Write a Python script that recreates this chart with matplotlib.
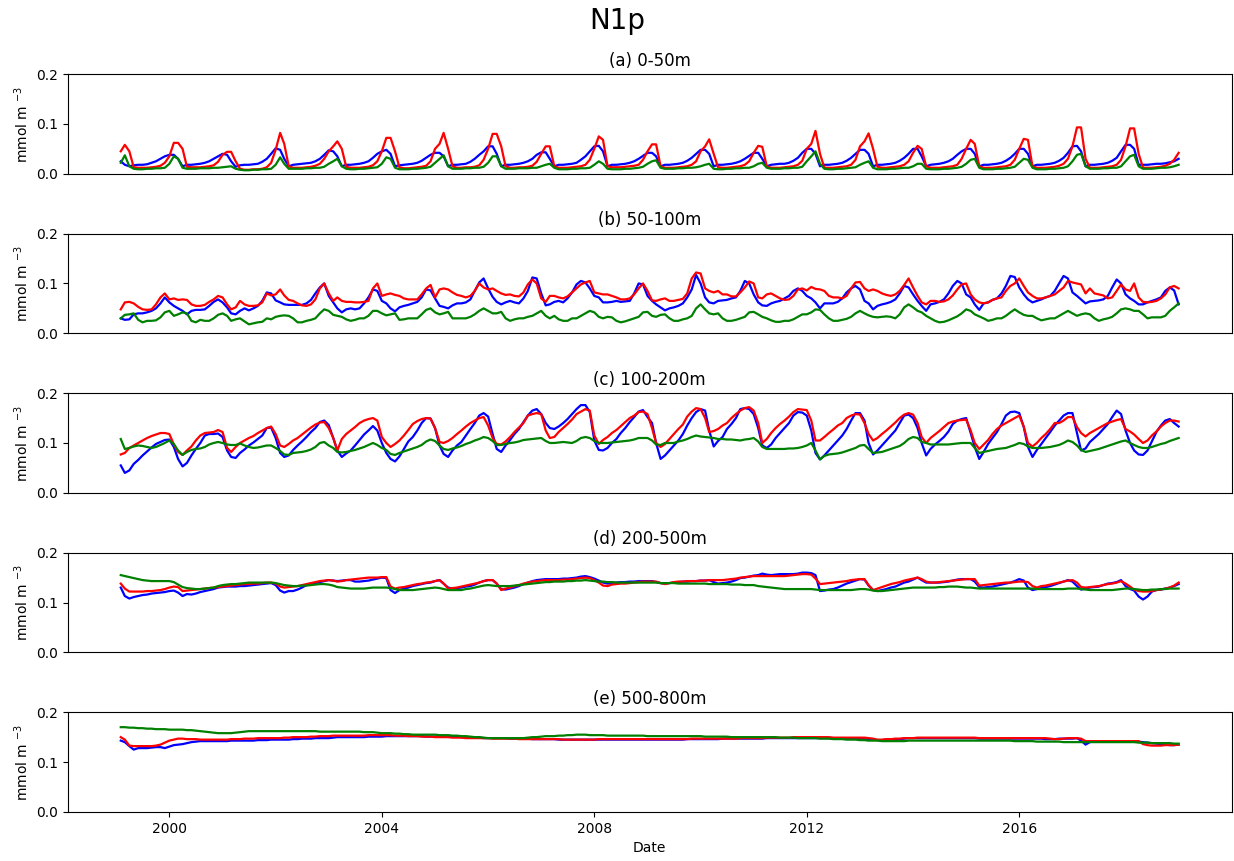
import numpy as np
import pandas as pd
import matplotlib
matplotlib.use("Agg")
import matplotlib.pyplot as plt
import matplotlib.dates as mdates

# monthly values, Jan 1999 - Dec 2018, one row per year, in 1e-3 mmol m-3
dates = pd.date_range("1999-02-01", periods=240, freq="MS") - pd.Timedelta(days=1)

a_blue = [
    [25, 18, 15, 17, 18, 18, 19, 22, 25, 30, 35, 38],
    [38, 30, 15, 18, 18, 19, 20, 22, 25, 30, 35, 40],
    [38, 25, 14, 17, 18, 18, 19, 20, 24, 30, 40, 51],
    [48, 30, 15, 18, 19, 20, 21, 22, 25, 30, 38, 47],
    [45, 35, 15, 18, 18, 19, 20, 22, 25, 32, 40, 45],
    [48, 40, 15, 17, 18, 19, 20, 22, 26, 32, 38, 42],
    [42, 35, 15, 18, 18, 19, 20, 24, 30, 38, 45, 55],
    [55, 40, 15, 18, 18, 19, 20, 22, 25, 30, 38, 43],
    [43, 30, 15, 18, 18, 19, 20, 22, 28, 35, 45, 55],
    [56, 45, 15, 18, 18, 19, 20, 22, 25, 30, 36, 42],
    [42, 35, 15, 18, 18, 19, 20, 22, 26, 32, 40, 48],
    [48, 40, 15, 18, 18, 19, 20, 22, 25, 30, 36, 42],
    [42, 30, 15, 18, 19, 20, 20, 22, 26, 32, 42, 50],
    [50, 40, 15, 18, 18, 19, 20, 22, 26, 32, 40, 48],
    [48, 40, 15, 18, 18, 19, 20, 22, 26, 32, 40, 50],
    [50, 35, 15, 18, 19, 20, 22, 25, 30, 38, 45, 50],
    [50, 40, 15, 18, 18, 19, 20, 22, 26, 32, 40, 50],
    [50, 40, 15, 18, 18, 19, 20, 22, 26, 32, 42, 55],
    [56, 45, 15, 18, 18, 19, 20, 22, 26, 32, 45, 58],
    [58, 50, 18, 18, 18, 19, 20, 20, 21, 23, 25, 30],
]
a_red = [
    [45, 58, 45, 13, 12, 12, 12, 13, 14, 16, 22, 35],
    [62, 62, 50, 14, 13, 13, 13, 14, 15, 17, 24, 38],
    [44, 44, 25, 10, 8, 8, 9, 9, 10, 13, 22, 48],
    [82, 60, 15, 12, 12, 12, 13, 14, 16, 20, 30, 45],
    [55, 65, 50, 14, 12, 12, 12, 13, 14, 17, 25, 45],
    [72, 72, 45, 13, 11, 11, 12, 13, 14, 16, 25, 50],
    [60, 82, 50, 15, 12, 12, 13, 13, 14, 17, 28, 50],
    [80, 80, 55, 15, 12, 12, 13, 13, 14, 16, 24, 40],
    [55, 55, 15, 12, 12, 12, 13, 14, 15, 18, 28, 50],
    [75, 68, 15, 13, 13, 13, 14, 15, 16, 18, 28, 45],
    [59, 59, 15, 12, 12, 12, 13, 14, 15, 18, 25, 45],
    [55, 69, 40, 13, 12, 12, 13, 14, 15, 18, 25, 42],
    [56, 54, 15, 12, 12, 12, 13, 14, 15, 18, 26, 50],
    [60, 86, 40, 12, 12, 12, 13, 14, 15, 18, 28, 55],
    [65, 81, 50, 14, 12, 12, 13, 14, 15, 18, 25, 42],
    [56, 50, 15, 12, 12, 12, 13, 14, 15, 18, 30, 50],
    [68, 60, 15, 12, 12, 12, 13, 14, 15, 18, 28, 50],
    [70, 68, 15, 12, 12, 12, 13, 14, 16, 20, 30, 55],
    [93, 93, 30, 12, 12, 12, 13, 14, 15, 18, 28, 55],
    [91, 91, 40, 12, 12, 12, 13, 14, 16, 20, 28, 42],
]
a_green = [
    [22, 37, 15, 10, 9, 9, 10, 10, 11, 11, 12, 20],
    [35, 30, 12, 10, 10, 10, 11, 11, 11, 12, 12, 13],
    [14, 15, 10, 8, 7, 7, 8, 8, 9, 9, 10, 18],
    [33, 20, 10, 10, 10, 10, 11, 11, 12, 12, 14, 20],
    [25, 30, 15, 10, 9, 9, 10, 10, 11, 12, 13, 20],
    [33, 30, 12, 9, 9, 9, 10, 10, 11, 12, 14, 22],
    [30, 37, 15, 10, 10, 10, 11, 11, 12, 12, 14, 22],
    [35, 35, 15, 10, 10, 10, 11, 11, 11, 12, 12, 15],
    [18, 20, 12, 9, 9, 9, 10, 10, 11, 11, 12, 18],
    [25, 20, 10, 9, 9, 9, 10, 10, 11, 12, 14, 20],
    [25, 27, 12, 10, 10, 10, 11, 11, 12, 12, 13, 15],
    [18, 20, 10, 9, 9, 10, 10, 11, 11, 12, 12, 15],
    [20, 22, 12, 10, 10, 10, 11, 11, 12, 12, 14, 25],
    [35, 45, 20, 10, 9, 9, 10, 10, 11, 12, 13, 18],
    [22, 25, 12, 9, 9, 9, 10, 10, 11, 12, 12, 15],
    [20, 20, 10, 9, 9, 9, 10, 10, 11, 12, 14, 20],
    [28, 30, 12, 9, 9, 9, 10, 10, 11, 12, 14, 22],
    [30, 28, 12, 9, 9, 9, 10, 10, 11, 12, 15, 25],
    [38, 40, 15, 10, 10, 10, 11, 11, 12, 12, 15, 25],
    [35, 38, 15, 10, 10, 10, 11, 12, 12, 13, 15, 18],
]

b_blue = [
    [30, 27, 28, 38, 40, 40, 42, 45, 50, 60, 72, 62],
    [55, 50, 45, 38, 45, 47, 47, 48, 55, 63, 68, 62],
    [52, 40, 38, 45, 50, 46, 50, 55, 65, 82, 80, 66],
    [62, 58, 57, 57, 57, 57, 60, 67, 80, 92, 100, 75],
    [62, 50, 42, 48, 50, 48, 50, 60, 72, 88, 85, 65],
    [60, 50, 44, 52, 55, 57, 60, 63, 72, 88, 86, 70],
    [55, 53, 50, 56, 60, 60, 62, 68, 85, 102, 110, 90],
    [73, 63, 58, 62, 65, 62, 60, 70, 85, 112, 110, 80],
    [56, 58, 63, 65, 62, 70, 82, 98, 105, 102, 90, 75],
    [72, 62, 62, 63, 65, 63, 64, 65, 80, 100, 98, 75],
    [65, 58, 52, 46, 50, 52, 55, 60, 72, 88, 117, 100],
    [72, 62, 60, 65, 66, 67, 70, 72, 85, 105, 100, 78],
    [62, 56, 55, 60, 63, 65, 70, 75, 85, 90, 85, 75],
    [70, 62, 50, 60, 60, 60, 63, 70, 82, 90, 95, 88],
    [65, 60, 48, 55, 58, 60, 63, 68, 80, 95, 92, 78],
    [65, 55, 45, 58, 60, 63, 68, 80, 95, 105, 100, 78],
    [72, 58, 47, 60, 62, 67, 70, 80, 95, 115, 113, 92],
    [78, 68, 62, 65, 68, 72, 75, 85, 100, 115, 110, 82],
    [75, 68, 60, 64, 65, 66, 68, 75, 92, 108, 100, 78],
    [70, 65, 58, 58, 62, 65, 68, 72, 85, 92, 86, 58],
]
b_red = [
    [48, 62, 63, 60, 53, 48, 47, 48, 58, 72, 80, 68],
    [70, 67, 68, 67, 58, 55, 55, 57, 63, 68, 75, 72],
    [58, 48, 52, 65, 58, 55, 55, 56, 62, 80, 76, 78],
    [88, 76, 67, 65, 60, 56, 55, 58, 68, 90, 100, 80],
    [65, 72, 65, 63, 63, 62, 62, 63, 65, 90, 100, 75],
    [78, 80, 77, 75, 70, 68, 68, 68, 78, 90, 97, 72],
    [88, 90, 88, 82, 77, 75, 72, 75, 85, 100, 92, 88],
    [90, 85, 80, 77, 78, 75, 74, 82, 98, 108, 100, 70],
    [63, 75, 75, 72, 70, 74, 82, 90, 98, 102, 105, 82],
    [80, 78, 78, 75, 72, 68, 68, 70, 78, 90, 100, 85],
    [66, 65, 68, 70, 65, 65, 67, 69, 80, 110, 122, 120],
    [90, 85, 82, 85, 78, 78, 74, 74, 82, 92, 104, 100],
    [72, 70, 78, 80, 75, 70, 67, 68, 75, 88, 90, 86],
    [93, 89, 88, 85, 75, 72, 72, 70, 75, 90, 102, 103],
    [90, 85, 88, 85, 80, 77, 75, 78, 85, 97, 110, 92],
    [75, 62, 58, 65, 65, 63, 64, 68, 76, 88, 98, 100],
    [78, 68, 62, 60, 62, 67, 70, 72, 85, 95, 100, 110],
    [95, 82, 75, 70, 70, 72, 75, 78, 85, 92, 105, 102],
    [100, 98, 80, 90, 80, 78, 76, 70, 72, 85, 98, 88],
    [85, 100, 72, 63, 62, 63, 65, 70, 78, 92, 95, 90],
]
b_green = [
    [30, 37, 38, 40, 27, 22, 25, 25, 26, 32, 42, 45],
    [35, 38, 42, 40, 25, 22, 27, 25, 25, 30, 37, 40],
    [35, 25, 28, 30, 24, 18, 20, 22, 23, 30, 28, 33],
    [35, 36, 35, 30, 22, 22, 25, 27, 30, 40, 48, 45],
    [37, 35, 33, 28, 25, 27, 30, 30, 35, 45, 45, 40],
    [36, 38, 40, 27, 28, 30, 30, 30, 38, 47, 50, 42],
    [38, 40, 43, 30, 30, 30, 30, 33, 38, 45, 50, 45],
    [40, 40, 43, 30, 25, 28, 30, 30, 33, 35, 40, 45],
    [35, 30, 35, 28, 25, 25, 30, 30, 35, 40, 45, 42],
    [33, 30, 33, 32, 25, 22, 24, 27, 30, 33, 42, 43],
    [35, 33, 37, 38, 30, 25, 25, 28, 30, 35, 50, 58],
    [48, 40, 38, 40, 30, 25, 25, 27, 30, 33, 42, 43],
    [38, 33, 30, 26, 23, 23, 25, 25, 28, 33, 38, 38],
    [42, 48, 47, 38, 30, 25, 25, 27, 29, 33, 40, 45],
    [40, 36, 33, 32, 33, 34, 33, 30, 38, 52, 58, 52],
    [45, 42, 35, 30, 25, 22, 23, 26, 30, 34, 40, 48],
    [45, 38, 34, 30, 25, 27, 30, 30, 35, 42, 48, 42],
    [37, 35, 35, 30, 26, 28, 30, 30, 35, 40, 45, 40],
    [35, 38, 40, 38, 30, 25, 28, 30, 33, 40, 48, 50],
    [48, 45, 45, 38, 30, 32, 32, 32, 35, 45, 52, 60],
]

c_blue = [
    [55, 40, 45, 58, 66, 75, 83, 91, 98, 102, 106, 107],
    [92, 68, 53, 60, 75, 88, 100, 115, 118, 118, 119, 112],
    [85, 72, 70, 80, 87, 95, 101, 108, 115, 130, 131, 110],
    [80, 72, 75, 86, 95, 103, 112, 122, 130, 142, 145, 136],
    [110, 85, 72, 79, 85, 95, 106, 117, 125, 134, 125, 100],
    [80, 68, 63, 73, 88, 103, 112, 125, 140, 150, 149, 130],
    [95, 78, 72, 85, 95, 102, 115, 128, 140, 155, 160, 153],
    [118, 88, 82, 95, 106, 118, 128, 142, 155, 165, 168, 158],
    [140, 130, 128, 133, 140, 148, 158, 168, 176, 176, 162, 105],
    [86, 85, 90, 100, 108, 120, 130, 142, 152, 163, 166, 152],
    [140, 100, 68, 75, 85, 95, 105, 118, 135, 150, 162, 168],
    [165, 125, 93, 104, 112, 128, 138, 150, 168, 170, 168, 158],
    [130, 95, 90, 97, 110, 120, 130, 140, 155, 162, 161, 155],
    [125, 80, 67, 75, 85, 95, 105, 115, 128, 145, 160, 160],
    [145, 100, 77, 85, 95, 105, 115, 125, 140, 155, 157, 150],
    [130, 100, 75, 88, 97, 104, 112, 123, 138, 145, 148, 150],
    [120, 92, 68, 82, 98, 110, 122, 138, 155, 162, 163, 160],
    [132, 92, 72, 86, 98, 110, 122, 135, 145, 155, 160, 160],
    [120, 85, 89, 102, 110, 118, 128, 138, 152, 165, 158, 125],
    [100, 85, 77, 76, 85, 103, 122, 135, 145, 148, 140, 133],
]
c_red = [
    [77, 80, 90, 95, 100, 105, 110, 114, 117, 120, 120, 118],
    [97, 82, 76, 85, 93, 105, 115, 120, 121, 122, 126, 122],
    [90, 82, 92, 100, 105, 110, 114, 120, 125, 130, 133, 118],
    [95, 92, 98, 105, 110, 117, 124, 131, 137, 141, 142, 130],
    [110, 85, 108, 118, 125, 132, 140, 145, 148, 150, 145, 112],
    [100, 92, 98, 105, 115, 126, 138, 144, 148, 150, 149, 130],
    [102, 100, 104, 110, 118, 125, 133, 140, 145, 150, 152, 135],
    [110, 98, 97, 103, 112, 122, 131, 140, 155, 158, 160, 158],
    [125, 110, 112, 122, 130, 138, 147, 158, 163, 168, 165, 115],
    [98, 106, 112, 120, 126, 134, 142, 150, 155, 162, 163, 158],
    [130, 100, 92, 98, 108, 118, 128, 137, 153, 163, 170, 168],
    [150, 122, 124, 128, 135, 140, 150, 158, 165, 170, 172, 165],
    [140, 100, 108, 120, 130, 138, 145, 153, 162, 168, 167, 166],
    [145, 105, 105, 112, 120, 127, 135, 140, 150, 155, 158, 157],
    [140, 118, 105, 110, 118, 125, 133, 141, 150, 157, 160, 157],
    [140, 112, 100, 110, 117, 124, 132, 140, 143, 145, 146, 147],
    [125, 100, 88, 97, 106, 118, 128, 135, 140, 145, 150, 155],
    [133, 100, 93, 100, 110, 118, 128, 140, 140, 145, 152, 152],
    [132, 120, 113, 120, 125, 130, 135, 140, 143, 146, 148, 128],
    [123, 117, 108, 100, 105, 115, 123, 133, 140, 145, 145, 143],
]
c_green = [
    [108, 88, 90, 93, 95, 94, 92, 90, 92, 96, 100, 105],
    [98, 85, 76, 82, 86, 88, 89, 92, 97, 100, 102, 100],
    [97, 96, 96, 99, 95, 92, 90, 91, 93, 95, 95, 90],
    [84, 77, 76, 80, 81, 82, 84, 87, 92, 100, 102, 95],
    [90, 82, 81, 82, 84, 86, 89, 92, 96, 100, 96, 90],
    [86, 78, 76, 80, 83, 86, 89, 92, 96, 103, 107, 104],
    [95, 88, 86, 89, 91, 94, 98, 101, 105, 108, 112, 110],
    [104, 96, 96, 98, 100, 101, 103, 106, 107, 108, 109, 110],
    [104, 100, 100, 101, 102, 101, 100, 104, 110, 112, 110, 104],
    [100, 100, 100, 101, 102, 103, 104, 105, 107, 110, 110, 110],
    [105, 97, 96, 100, 100, 100, 103, 105, 108, 112, 115, 113],
    [112, 111, 110, 108, 108, 107, 107, 106, 105, 107, 108, 110],
    [103, 92, 88, 88, 88, 88, 88, 89, 89, 90, 92, 95],
    [100, 85, 67, 74, 77, 78, 79, 81, 84, 87, 90, 95],
    [96, 88, 80, 81, 82, 85, 88, 91, 94, 100, 108, 112],
    [110, 102, 100, 97, 97, 97, 97, 97, 98, 99, 100, 100],
    [100, 90, 80, 82, 84, 86, 88, 89, 90, 93, 96, 100],
    [98, 93, 90, 90, 90, 91, 92, 94, 96, 100, 105, 102],
    [95, 86, 82, 84, 86, 88, 91, 94, 97, 100, 103, 105],
    [100, 96, 92, 90, 90, 92, 95, 98, 100, 104, 107, 110],
]

d_blue = [
    [130, 113, 108, 111, 113, 115, 116, 118, 119, 120, 121, 123],
    [124, 120, 113, 117, 116, 118, 121, 123, 125, 127, 130, 131],
    [132, 132, 132, 133, 133, 134, 135, 136, 137, 138, 139, 135],
    [124, 120, 123, 123, 126, 130, 135, 138, 139, 141, 143, 145],
    [144, 143, 144, 145, 145, 142, 142, 143, 144, 146, 148, 150],
    [149, 125, 119, 125, 128, 130, 133, 135, 137, 139, 140, 143],
    [145, 138, 130, 128, 129, 130, 132, 133, 136, 140, 143, 145],
    [145, 138, 127, 126, 128, 130, 133, 137, 140, 143, 145, 146],
    [147, 147, 147, 147, 148, 148, 149, 150, 152, 153, 151, 148],
    [144, 140, 138, 139, 140, 141, 141, 142, 142, 143, 143, 143],
    [143, 141, 139, 138, 139, 140, 141, 142, 142, 143, 143, 144],
    [144, 145, 141, 138, 139, 140, 142, 145, 149, 150, 152, 154],
    [155, 158, 156, 155, 156, 157, 157, 157, 157, 158, 160, 160],
    [159, 155, 123, 124, 126, 127, 130, 134, 138, 141, 144, 147],
    [146, 134, 125, 123, 125, 127, 130, 132, 136, 140, 142, 146],
    [150, 145, 140, 140, 140, 140, 141, 142, 144, 146, 147, 147],
    [147, 142, 131, 130, 131, 132, 134, 136, 138, 140, 143, 147],
    [144, 130, 125, 127, 129, 131, 133, 136, 139, 142, 145, 142],
    [133, 126, 128, 130, 131, 132, 135, 138, 139, 141, 145, 133],
    [127, 124, 112, 106, 112, 122, 125, 126, 128, 130, 133, 137],
]
d_red = [
    [138, 128, 122, 122, 122, 122, 123, 123, 124, 125, 127, 130],
    [132, 131, 123, 124, 125, 126, 127, 128, 129, 130, 131, 132],
    [133, 134, 135, 136, 137, 137, 138, 138, 139, 140, 140, 138],
    [132, 130, 131, 132, 133, 135, 137, 139, 141, 143, 144, 145],
    [144, 142, 143, 145, 146, 147, 148, 149, 150, 150, 150, 151],
    [151, 132, 128, 130, 131, 133, 135, 137, 138, 140, 141, 143],
    [145, 138, 128, 129, 130, 132, 134, 136, 138, 140, 143, 145],
    [145, 138, 125, 128, 130, 133, 135, 138, 140, 142, 143, 144],
    [145, 145, 145, 145, 146, 146, 147, 148, 149, 150, 149, 145],
    [140, 134, 133, 136, 137, 138, 138, 139, 140, 141, 142, 142],
    [142, 142, 139, 137, 139, 141, 142, 142, 143, 143, 143, 144],
    [144, 145, 145, 145, 145, 146, 147, 148, 150, 151, 152, 153],
    [153, 153, 153, 153, 153, 153, 153, 154, 155, 156, 157, 157],
    [156, 148, 137, 138, 139, 140, 141, 142, 143, 145, 146, 147],
    [147, 135, 125, 128, 131, 134, 137, 139, 141, 144, 146, 148],
    [150, 147, 142, 140, 140, 141, 142, 143, 144, 145, 146, 147],
    [147, 147, 134, 135, 136, 137, 138, 139, 140, 140, 141, 142],
    [142, 141, 133, 130, 133, 134, 136, 138, 140, 142, 144, 145],
    [140, 131, 130, 131, 132, 133, 135, 137, 138, 140, 143, 138],
    [132, 126, 123, 122, 122, 123, 125, 126, 128, 130, 134, 140],
]
d_green = [
    [155, 153, 151, 149, 147, 145, 144, 143, 143, 143, 143, 143],
    [141, 136, 131, 129, 128, 127, 127, 128, 129, 130, 133, 135],
    [136, 137, 137, 138, 139, 140, 140, 140, 140, 140, 140, 139],
    [137, 135, 134, 133, 133, 134, 134, 135, 136, 137, 137, 136],
    [134, 131, 130, 129, 128, 128, 128, 128, 129, 130, 130, 130],
    [130, 129, 127, 125, 125, 125, 125, 126, 127, 128, 129, 130],
    [129, 127, 125, 125, 125, 125, 127, 128, 130, 132, 134, 135],
    [134, 133, 133, 133, 133, 134, 135, 136, 137, 138, 139, 140],
    [141, 141, 142, 142, 142, 143, 143, 144, 144, 145, 144, 143],
    [142, 142, 141, 141, 140, 140, 140, 140, 140, 140, 140, 140],
    [140, 140, 139, 139, 139, 139, 138, 138, 138, 138, 138, 138],
    [138, 137, 137, 137, 137, 137, 136, 136, 136, 135, 135, 135],
    [133, 132, 131, 130, 129, 128, 127, 127, 127, 127, 127, 127],
    [127, 126, 125, 125, 125, 125, 125, 125, 125, 125, 126, 127],
    [127, 126, 124, 123, 123, 124, 125, 126, 127, 128, 129, 130],
    [130, 130, 130, 130, 130, 131, 131, 132, 132, 132, 131, 130],
    [130, 129, 128, 128, 128, 128, 128, 128, 128, 128, 128, 128],
    [128, 128, 128, 127, 127, 127, 127, 127, 127, 127, 128, 128],
    [128, 127, 126, 125, 125, 125, 125, 125, 125, 126, 127, 128],
    [128, 127, 126, 125, 125, 126, 126, 127, 127, 128, 128, 128],
]

e_blue = [
    [143, 140, 132, 125, 128, 128, 128, 129, 130, 130, 128, 131],
    [134, 135, 136, 138, 140, 141, 142, 142, 142, 142, 142, 142],
    [142, 143, 143, 143, 143, 143, 143, 144, 144, 144, 145, 145],
    [145, 145, 145, 146, 146, 147, 147, 147, 148, 148, 148, 148],
    [149, 150, 150, 150, 150, 150, 150, 150, 151, 151, 151, 151],
    [152, 152, 152, 152, 152, 152, 152, 152, 152, 151, 151, 151],
    [151, 151, 151, 151, 151, 150, 150, 150, 150, 149, 148, 148],
    [148, 148, 148, 148, 147, 147, 147, 147, 147, 146, 146, 146],
    [146, 146, 146, 145, 145, 145, 145, 145, 145, 145, 145, 145],
    [145, 145, 145, 145, 145, 145, 145, 145, 145, 145, 145, 145],
    [145, 145, 145, 145, 145, 145, 145, 145, 146, 146, 146, 146],
    [146, 146, 146, 146, 147, 147, 147, 147, 147, 147, 147, 147],
    [147, 147, 148, 148, 148, 148, 148, 148, 148, 148, 148, 148],
    [148, 148, 148, 148, 148, 148, 148, 147, 147, 147, 147, 147],
    [147, 146, 145, 144, 144, 145, 145, 146, 146, 147, 148, 148],
    [148, 148, 148, 148, 148, 148, 148, 148, 148, 148, 148, 148],
    [148, 148, 147, 147, 147, 147, 147, 147, 147, 147, 147, 147],
    [147, 147, 147, 147, 147, 146, 146, 146, 147, 147, 147, 147],
    [148, 143, 135, 140, 142, 142, 142, 142, 142, 142, 142, 142],
    [142, 142, 141, 140, 139, 138, 137, 136, 135, 134, 134, 135],
]
e_red = [
    [150, 145, 133, 132, 132, 132, 132, 132, 133, 135, 139, 143],
    [145, 147, 147, 146, 146, 146, 145, 145, 145, 145, 145, 145],
    [145, 146, 146, 146, 147, 147, 147, 148, 148, 148, 148, 148],
    [148, 149, 149, 150, 150, 150, 150, 151, 151, 152, 152, 152],
    [153, 153, 153, 153, 153, 153, 153, 153, 154, 154, 154, 154],
    [154, 154, 153, 153, 153, 152, 152, 152, 151, 151, 151, 150],
    [150, 150, 150, 149, 149, 149, 148, 148, 148, 148, 148, 148],
    [147, 147, 147, 147, 147, 147, 146, 146, 146, 146, 146, 146],
    [146, 146, 146, 146, 145, 145, 145, 145, 145, 145, 145, 145],
    [146, 146, 146, 146, 146, 146, 146, 146, 146, 146, 146, 146],
    [146, 146, 146, 146, 146, 146, 146, 146, 146, 147, 147, 147],
    [147, 147, 147, 147, 147, 147, 147, 147, 148, 148, 148, 148],
    [148, 148, 149, 149, 149, 149, 149, 149, 150, 150, 150, 150],
    [150, 150, 150, 150, 150, 149, 149, 149, 149, 149, 149, 149],
    [149, 148, 147, 145, 145, 146, 146, 147, 147, 148, 148, 148],
    [149, 149, 149, 149, 149, 149, 149, 149, 149, 149, 149, 149],
    [149, 149, 148, 148, 148, 148, 148, 148, 148, 148, 148, 148],
    [148, 148, 148, 148, 148, 148, 147, 146, 146, 147, 148, 148],
    [148, 147, 142, 142, 142, 142, 142, 142, 142, 142, 142, 142],
    [142, 142, 142, 136, 134, 133, 133, 133, 134, 134, 134, 135],
]
e_green = [
    [170, 170, 169, 169, 168, 168, 167, 167, 166, 166, 166, 165],
    [165, 165, 165, 164, 164, 163, 162, 161, 160, 159, 158, 158],
    [158, 158, 159, 160, 161, 162, 162, 162, 162, 162, 162, 162],
    [162, 162, 162, 162, 162, 162, 162, 162, 162, 161, 161, 161],
    [161, 161, 161, 161, 161, 161, 161, 160, 160, 160, 159, 158],
    [158, 158, 157, 157, 156, 156, 155, 155, 155, 155, 155, 155],
    [154, 154, 154, 153, 153, 152, 152, 151, 150, 150, 149, 148],
    [148, 148, 148, 148, 148, 148, 148, 148, 149, 150, 150, 151],
    [152, 152, 152, 153, 153, 154, 154, 155, 155, 155, 154, 154],
    [154, 154, 153, 153, 153, 153, 153, 153, 153, 153, 153, 152],
    [152, 152, 152, 152, 152, 152, 152, 152, 152, 152, 152, 152],
    [151, 151, 151, 151, 151, 151, 150, 150, 150, 150, 150, 150],
    [150, 150, 150, 150, 150, 149, 149, 149, 149, 148, 148, 148],
    [148, 148, 147, 147, 147, 146, 146, 146, 145, 145, 145, 144],
    [144, 143, 143, 143, 142, 142, 142, 142, 142, 142, 143, 143],
    [143, 143, 143, 143, 143, 143, 143, 143, 143, 143, 143, 143],
    [143, 143, 143, 143, 143, 143, 143, 143, 143, 143, 142, 142],
    [142, 142, 142, 141, 141, 141, 141, 141, 141, 140, 140, 140],
    [140, 140, 140, 140, 140, 140, 140, 140, 140, 140, 140, 140],
    [140, 140, 139, 139, 139, 138, 138, 138, 138, 138, 137, 137],
]

titles = ["(a) 0-50m", "(b) 50-100m", "(c) 100-200m", "(d) 200-500m", "(e) 500-800m"]
panels = [
    (a_blue, a_red, a_green),
    (b_blue, b_red, b_green),
    (c_blue, c_red, c_green),
    (d_blue, d_red, d_green),
    (e_blue, e_red, e_green),
]

fig, axes = plt.subplots(5, 1, figsize=(12.34, 8.61), dpi=100)
fig.subplots_adjust(left=0.055, right=0.998, top=0.914, bottom=0.057, hspace=0.6)
fig.suptitle("N1p", fontsize=20, y=0.992)

for ax, title, (blue, red, green) in zip(axes, titles, panels):
    ax.plot(dates, np.array(blue).ravel() / 1000, color="blue", lw=1.6)
    ax.plot(dates, np.array(red).ravel() / 1000, color="red", lw=1.6)
    ax.plot(dates, np.array(green).ravel() / 1000, color="green", lw=1.6)
    ax.set_title(title, fontsize=12)
    ax.set_ylim(0, 0.2)
    ax.set_yticks([0.0, 0.1, 0.2])
    ax.set_ylabel("mmol m $^{-3}$", fontsize=10)
    ax.xaxis.set_major_locator(mdates.YearLocator(4))
    ax.xaxis.set_major_formatter(mdates.DateFormatter("%Y"))

for ax in axes[:-1]:
    ax.set_xticks([])
axes[-1].set_xlabel("Date", fontsize=10)

fig.savefig("out.png", dpi=100)
